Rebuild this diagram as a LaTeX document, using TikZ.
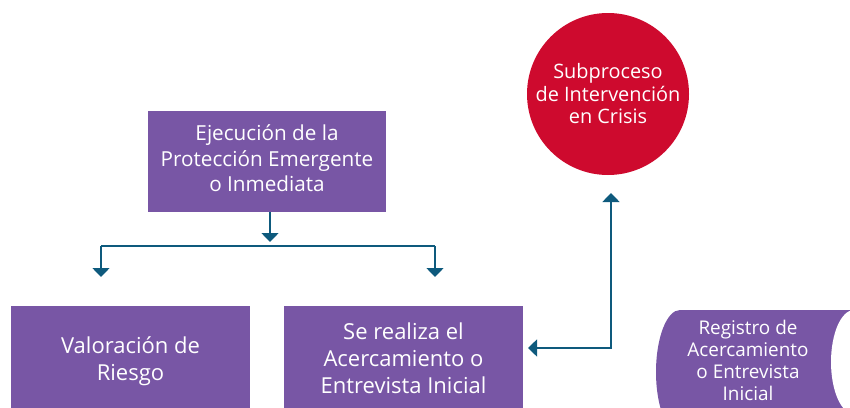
\documentclass[tikz,border=0pt]{standalone}
\usepackage{fontspec}
\setmainfont{Open Sans}
\usetikzlibrary{arrows.meta}
\definecolor{boxpurple}{RGB}{120,86,165}
\definecolor{crisisred}{RGB}{206,10,46}
\definecolor{arrowblue}{RGB}{14,90,125}
\begin{document}
\begin{tikzpicture}[x=1pt,y=-1pt,
  pbox/.style={fill=boxpurple, text=white, align=center, inner sep=0pt},
  arr/.style={draw=arrowblue, line width=1.6pt, -{Triangle[length=9pt,width=17pt]}},
  arrboth/.style={draw=arrowblue, line width=1.6pt, {Triangle[length=9pt,width=17pt]}-{Triangle[length=9pt,width=17pt]}},
  link/.style={draw=arrowblue, line width=1.6pt}
]
\useasboundingbox (0,0) rectangle (850,407);
\clip (0,0) rectangle (850,407);
% top box
\node[pbox, minimum width=238pt, minimum height=101pt] (top) at (267,161.5) {};
\node[text=white, align=center, inner sep=0pt,
      font=\fontsize{20.7}{25.5}\selectfont] (toptext) at (267,158.5)
  {Ejecución de la\\Protección Emergente\\o Inmediata};
% bottom boxes
\node[pbox, minimum width=239pt, minimum height=111pt,
      font=\fontsize{22}{27}\selectfont] (valor) at (130.5,361.5)
  {Valoración de\\Riesgo};
\node[pbox, minimum width=239pt, minimum height=104pt,
      font=\fontsize{22}{27}\selectfont] (acerc) at (403.5,358)
  {Se realiza el\\Acercamiento o\\Entrevista Inicial};
% circle
\node[circle, fill=crisisred, text=white, align=center, inner sep=0pt,
      minimum size=162pt, font=\fontsize{19.9}{22.5}\selectfont] (crisis) at (608,94)
  {Subproceso\\de Intervención\\en Crisis};
% stored data shape
\fill[boxpurple] (680,310) -- (860,310) -- (860,434) -- (680,434)
  arc[start angle=270, end angle=90, x radius=24pt, y radius=62pt] -- cycle;
\fill[white] (854,362) ellipse[x radius=23pt, y radius=52pt];
\node[text=white, align=center, inner sep=0pt,
      font=\fontsize{18.9}{22}\selectfont] (registro) at (748,360)
  {Registro de\\Acercamiento\\o Entrevista\\Inicial};
% connectors
\coordinate (split) at (270,242);
\coordinate (barL) at (101,246);
\coordinate (barR) at (435,246);
\coordinate (tipL) at (101,277);
\coordinate (tipR) at (435,277);
\draw[arr] (top.south -| split) -- (split);
\draw[link] (barL) -- (barR);
\draw[arr] (barL) -- (tipL);
\draw[arr] (barR) -- (tipR);
\coordinate (tipA) at (528,348);
\coordinate (tipC) at (611,193);
\draw[arrboth] (tipA) -| (tipC);
\end{tikzpicture}
\end{document}
